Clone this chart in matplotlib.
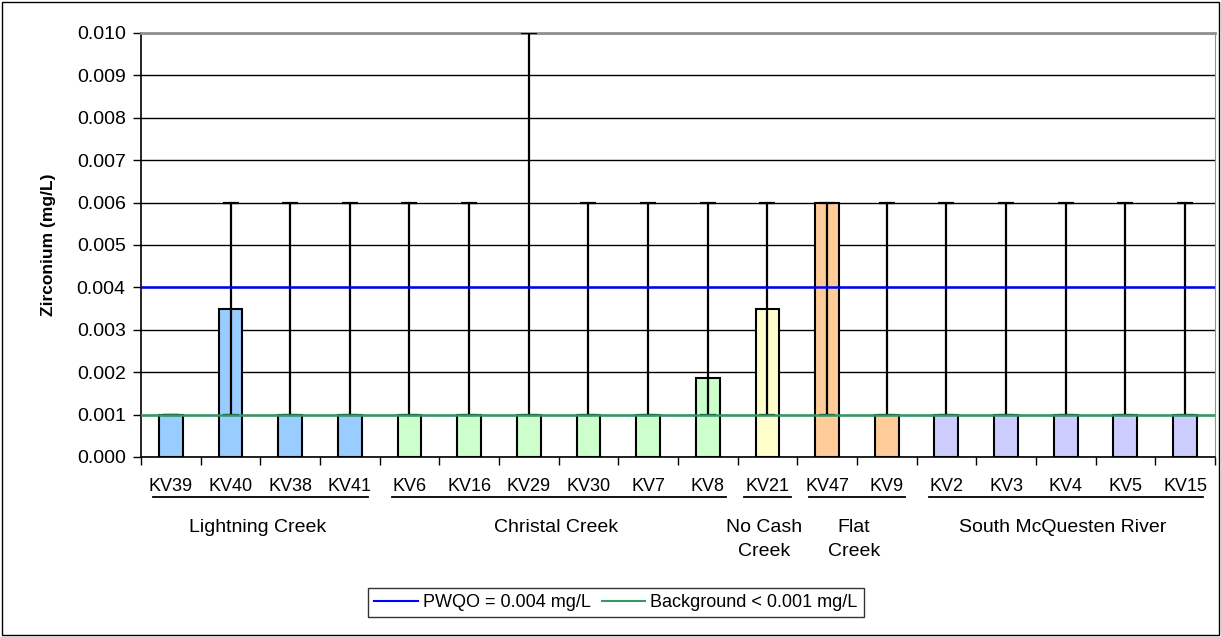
import numpy as np
import matplotlib.pyplot as plt
from matplotlib.patches import Rectangle

plt.rcParams['font.family'] = ['Liberation Sans', 'DejaVu Sans']

sites = ['KV39', 'KV40', 'KV38', 'KV41', 'KV6', 'KV16', 'KV29', 'KV30', 'KV7',
         'KV8', 'KV21', 'KV47', 'KV9', 'KV2', 'KV3', 'KV4', 'KV5', 'KV15']
mean_vals = [0.001, 0.0035, 0.001, 0.001, 0.001, 0.001, 0.001, 0.001, 0.001,
             0.00187, 0.0035, 0.006, 0.001, 0.001, 0.001, 0.001, 0.001, 0.001]
min_vals = [0.001] * 18
max_vals = [0.001, 0.006, 0.006, 0.006, 0.006, 0.006, 0.010, 0.006, 0.006,
            0.006, 0.006, 0.006, 0.006, 0.006, 0.006, 0.006, 0.006, 0.006]

groups = ['Lightning Creek', 'Christal Creek', 'No Cash\nCreek', 'Flat\nCreek',
          'South McQuesten River']
group_idx = [(0, 3), (4, 9), (10, 10), (11, 12), (13, 17)]
group_colors = ['#99ccff', '#ccffcc', '#ffffcc', '#ffcc99', '#ccccff']

pwqo = 0.004
background = 0.001

bar_colors = []
for (a, b), c in zip(group_idx, group_colors):
    bar_colors += [c] * (b - a + 1)

fig = plt.figure(figsize=(12.21, 6.37), dpi=100)
ax = fig.add_axes([0.1155, 0.2826, 0.8795, 0.6656])

x = np.arange(len(sites))
ax.bar(x, mean_vals, width=0.4, color=bar_colors, edgecolor='black',
       linewidth=1.5, zorder=2)

lo = np.array(min_vals)
up = np.array(max_vals) - lo
ax.errorbar(x, lo, yerr=[np.zeros_like(lo), up], fmt='none', ecolor='black',
            elinewidth=1.6, capsize=6, capthick=1.6, zorder=3)

ax.axhline(pwqo, color='#0000ff', lw=1.8, zorder=4)
ax.axhline(background, color='#339966', lw=1.8, zorder=4)

ax.set_xlim(-0.5, len(sites) - 0.5)
ax.set_ylim(0, 0.010)
yt = np.arange(0, 0.0101, 0.001)
ax.set_yticks(yt)
ax.set_yticklabels([f'{v:.3f}' for v in yt], fontsize=14)
ax.yaxis.grid(True, color='black', lw=1)
ax.set_axisbelow(True)
ax.tick_params(axis='y', length=6, width=1, pad=5)

ax.set_xticks(x)
ax.set_xticklabels(sites, fontsize=13)
ax.set_xticks(np.arange(-0.5, len(sites), 1), minor=True)
ax.tick_params(axis='x', which='major', length=0, pad=15)
ax.tick_params(axis='x', which='minor', length=6, width=1)

ax.set_ylabel('Zirconium (mg/L)', fontsize=12.5, fontweight='bold', labelpad=15)

ax.spines['top'].set_color('#909090')
ax.spines['top'].set_linewidth(2)
ax.spines['right'].set_color('#909090')
ax.spines['left'].set_linewidth(1.2)
ax.spines['bottom'].set_linewidth(1.2)

# group underlines and names
trans = ax.get_xaxis_transform()
for name, (a, b) in zip(groups, group_idx):
    m = 0.2 if a != b else 0.1
    ax.plot([a - 0.5 + m, b + 0.5 - m], [-0.094, -0.094], color='black', lw=1.3,
            transform=trans, clip_on=False)
    ax.text((a + b) / 2 - 0.05, -0.146, name, transform=trans, ha='center', va='top',
            fontsize=14, linespacing=1.55)

lg = fig.legend(handles=[plt.Line2D([], [], color='#0000ff', lw=1.5),
                         plt.Line2D([], [], color='#339966', lw=1.5)],
                labels=['PWQO = 0.004 mg/L', 'Background < 0.001 mg/L'],
                loc='center', bbox_to_anchor=(0.5045, 0.054), ncol=2, fontsize=13,
                frameon=True, fancybox=False, edgecolor='black', handlelength=2.4,
                handletextpad=0.3, columnspacing=0.6, borderpad=0.35)
lg.get_frame().set_linewidth(1)

fig.patches.append(Rectangle((0.002, 0.003), 0.996, 0.994, transform=fig.transFigure,
                             fill=False, edgecolor='black', lw=1))

fig.savefig('out.png', dpi=100)
